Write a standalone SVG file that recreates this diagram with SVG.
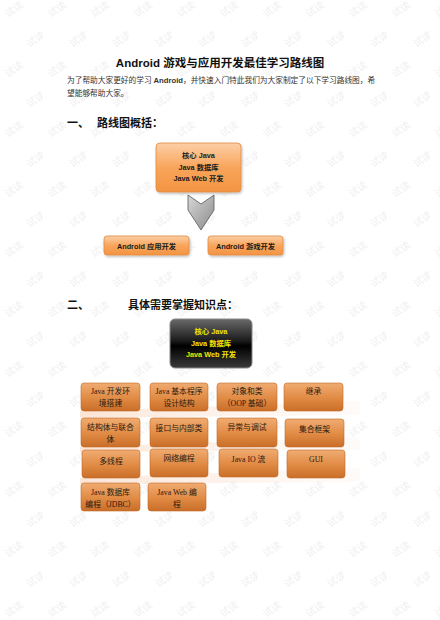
<svg xmlns="http://www.w3.org/2000/svg" width="440" height="620" viewBox="0 0 440 620">
<defs>
<linearGradient id="gTop" x1="0" y1="0" x2="0" y2="1">
<stop offset="0" stop-color="#fccfa6"/><stop offset="0.5" stop-color="#f9a55c"/><stop offset="1" stop-color="#f39442"/>
</linearGradient>
<linearGradient id="gGrid" x1="0" y1="0" x2="0" y2="1">
<stop offset="0" stop-color="#f0ac72"/><stop offset="0.55" stop-color="#e08a44"/><stop offset="1" stop-color="#c96e28"/>
</linearGradient>
<linearGradient id="gBlack" x1="0" y1="0" x2="0" y2="1">
<stop offset="0" stop-color="#6a6a6a"/><stop offset="0.45" stop-color="#1a1a1a"/><stop offset="0.55" stop-color="#000"/><stop offset="1" stop-color="#3a3a3a"/>
</linearGradient>
<linearGradient id="gArrow" x1="0" y1="0" x2="1" y2="1">
<stop offset="0" stop-color="#d8d8d8"/><stop offset="1" stop-color="#8a8a8a"/>
</linearGradient>
<linearGradient id="gBand" x1="0" y1="0" x2="1" y2="0">
<stop offset="0" stop-color="#f6c6a6" stop-opacity="0.45"/><stop offset="1" stop-color="#fbe3d3" stop-opacity="0.15"/>
</linearGradient>
<pattern id="wm" width="43" height="60" patternUnits="userSpaceOnUse">
<text x="4" y="14" transform="rotate(-35 12 10)" class="wmt">试读</text>
<text x="25.5" y="44" transform="rotate(-35 33.5 40)" class="wmt">试读</text>
</pattern>
<filter id="sh" x="-10%" y="-10%" width="130%" height="140%">
<feDropShadow dx="1" dy="1.5" stdDeviation="1" flood-color="#000" flood-opacity="0.25"/>
</filter>
</defs>
<style>
.wmt{font-family:"Liberation Sans","Noto Sans CJK SC",sans-serif;font-size:10px;fill:#efefef}
.title{font-family:"Liberation Sans","Noto Sans CJK SC",sans-serif;font-size:11.5px;font-weight:bold;fill:#111}
.para{font-family:"Liberation Serif","Noto Sans CJK SC",serif;font-size:7.7px;fill:#333}
.pb{font-family:"Liberation Sans","Noto Sans CJK SC",sans-serif;font-weight:bold}
.h{font-family:"Liberation Sans","Noto Sans CJK SC",sans-serif;font-size:11px;font-weight:bold;fill:#111}
.bt{font-family:"Liberation Sans","Noto Sans CJK SC",sans-serif;font-size:7.3px;font-weight:bold;fill:#1a1a1a;text-anchor:middle}
.yt{font-family:"Liberation Sans","Noto Sans CJK SC",sans-serif;font-size:7.3px;font-weight:bold;fill:#f2e600;text-anchor:middle}
.gt{font-family:"Liberation Serif","Noto Sans CJK SC",serif;font-size:7.8px;fill:#2a1a10;text-anchor:middle}
.ob{fill:url(#gTop);stroke:#e08a40;stroke-width:0.8}
.gb{fill:url(#gGrid);stroke:#c46a26;stroke-width:0.6}
</style>
<rect width="440" height="620" fill="#fff"/>
<rect width="440" height="620" fill="url(#wm)"/>

<text class="title" x="220" y="67" text-anchor="middle">Android 游戏与应用开发最佳学习路线图</text>
<text class="para" x="67" y="83">为了帮助大家更好的学习 <tspan class="pb">Android</tspan>，并快速入门特此我们为大家制定了以下学习路线图，希</text>
<text class="para" x="67" y="96">望能够帮助大家。</text>
<text class="h" x="67" y="127">一、</text>
<text class="h" x="97" y="127">路线图概括：</text>

<g id="connectors">
<path d="M188,195 L201,204 L214,195 L214,210 L201,230 L188,210 Z" fill="url(#gArrow)" stroke="#555" stroke-width="0.8"/>
</g>

<g id="core-top">
<rect class="ob" x="156" y="143" width="85" height="49" rx="4" filter="url(#sh)"/>
<text class="bt" x="198.5" y="158">核心 Java</text>
<text class="bt" x="198.5" y="169.5">Java 数据库</text>
<text class="bt" x="198.5" y="181">Java Web 开发</text>
</g>
<g id="android-app">
<rect class="ob" x="104" y="236" width="85" height="19" rx="3" filter="url(#sh)"/>
<text class="bt" x="146.5" y="248.5">Android 应用开发</text>
</g>
<g id="android-game">
<rect class="ob" x="208" y="236" width="75" height="19" rx="3" filter="url(#sh)"/>
<text class="bt" x="245.5" y="248.5">Android 游戏开发</text>
</g>

<text class="h" x="67" y="309">二、</text>
<text class="h" x="128" y="309">具体需要掌握知识点：</text>

<g id="core-black">
<rect x="170" y="319" width="82" height="49" rx="5" fill="url(#gBlack)" stroke="#888" stroke-width="1"/>
<text class="yt" x="211" y="334">核心 Java</text>
<text class="yt" x="211" y="345.5">Java 数据库</text>
<text class="yt" x="211" y="357">Java Web 开发</text>
</g>

<g id="bands">
<polygon points="80,411 360,401 360,415 80,418" fill="url(#gBand)"/>
<polygon points="80,447 360,437 360,450 80,452" fill="url(#gBand)"/>
<polygon points="80,478 360,468 360,482 80,484" fill="url(#gBand)"/>
</g>

<g id="n1"><rect class="gb" x="81" y="383" width="59" height="28" rx="3"/>
<text class="gt" x="110.5" y="394">Java  开发环</text><text class="gt" x="110.5" y="406">境搭建</text></g>
<g id="n2"><rect class="gb" x="150" y="383" width="58" height="28" rx="3"/>
<text class="gt" x="179" y="394">Java 基本程序</text><text class="gt" x="179" y="406">设计结构</text></g>
<g id="n3"><rect class="gb" x="217" y="383" width="60" height="28" rx="3"/>
<text class="gt" x="247" y="394">对象和类</text><text class="gt" x="247" y="406">（OOP 基础）</text></g>
<g id="n4"><rect class="gb" x="284" y="383" width="59" height="28" rx="3"/>
<text class="gt" x="313.5" y="394">继承</text></g>

<g id="n5"><rect class="gb" x="81" y="418" width="59" height="29" rx="3"/>
<text class="gt" x="110.5" y="430">结构体与联合</text><text class="gt" x="110.5" y="442">体</text></g>
<g id="n6"><rect class="gb" x="150" y="418" width="58" height="29" rx="3"/>
<text class="gt" x="179" y="430.5">接口与内部类</text></g>
<g id="n7"><rect class="gb" x="217" y="418" width="60" height="29" rx="3"/>
<text class="gt" x="247" y="430">异常与调试</text></g>
<g id="n8"><rect class="gb" x="285" y="419" width="59" height="28" rx="3"/>
<text class="gt" x="314.5" y="432">集合框架</text></g>

<g id="n9"><rect class="gb" x="82" y="450" width="58" height="28" rx="3"/>
<text class="gt" x="111" y="463.5">多线程</text></g>
<g id="n10"><rect class="gb" x="150" y="449" width="58" height="28" rx="3"/>
<text class="gt" x="179" y="461">网络编程</text></g>
<g id="n11"><rect class="gb" x="219" y="449" width="59" height="28" rx="3"/>
<text class="gt" x="248.5" y="462">Java IO  流</text></g>
<g id="n12"><rect class="gb" x="287" y="450" width="58" height="28" rx="3"/>
<text class="gt" x="316" y="462">GUI</text></g>

<g id="n13"><rect class="gb" x="81" y="483" width="59" height="28" rx="3"/>
<text class="gt" x="110.5" y="495">Java  数据库</text><text class="gt" x="110.5" y="507">编程（JDBC）</text></g>
<g id="n14"><rect class="gb" x="148" y="483" width="58" height="28" rx="3"/>
<text class="gt" x="177" y="495">Java Web  编</text><text class="gt" x="177" y="507">程</text></g>
</svg>
